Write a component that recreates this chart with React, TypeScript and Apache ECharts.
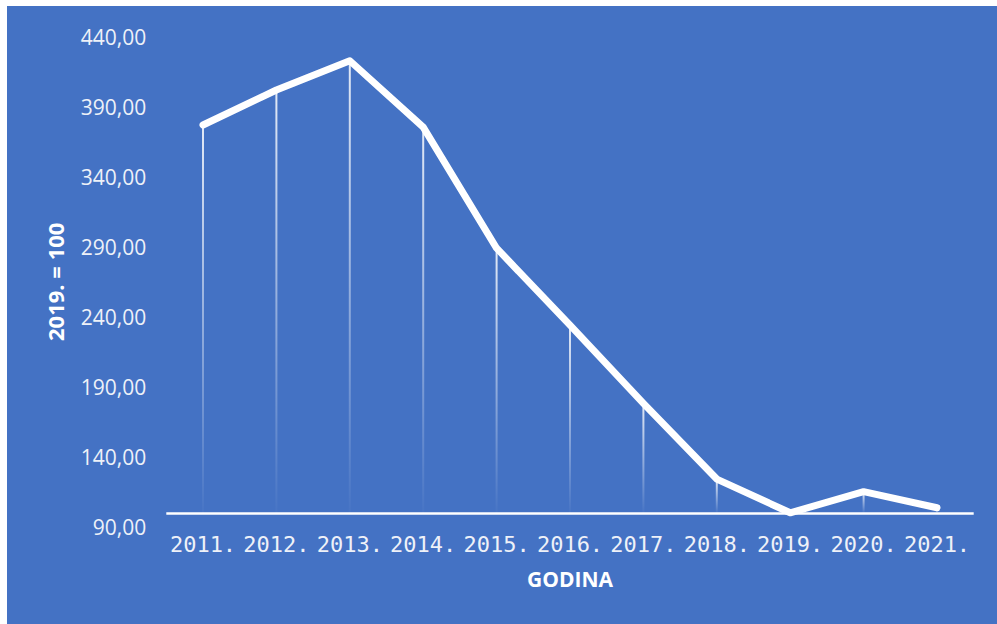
import React, { useEffect, useRef } from "react";
import * as echarts from "echarts";

const years = ["2011.", "2012.", "2013.", "2014.", "2015.", "2016.", "2017.", "2018.", "2019.", "2020.", "2021."];
const indexValues = [377.0, 402.0, 422.9, 375.5, 289.0, 234.1, 178.2, 124.1, 100.0, 115.1, 103.6];
const baseLevel = 100;
const yMin = 90;
const yMax = 440;
const yStep = 50;
const yAxisTitle = "2019. = 100";
const xAxisTitle = "GODINA";

export default function App() {
  const ref = useRef<HTMLDivElement>(null);
  useEffect(() => {
    if (!ref.current) return;
    const chart = echarts.init(ref.current, null, { renderer: "svg" });
    const labelColor = "#eef1f8";
    chart.setOption({
      animation: false,
      backgroundColor: "#4472C4",
      grid: { left: 159.3, right: 23.3, top: 30.8, bottom: 97.2 },
      xAxis: {
        type: "category",
        data: years,
        boundaryGap: true,
        axisLine: { show: false },
        axisTick: { show: false },
        axisLabel: {
          color: labelColor,
          fontFamily: "DejaVu Sans Mono",
          fontSize: 22,
          margin: 7,
          interval: 0,
        },
        name: xAxisTitle,
        nameLocation: "middle",
        nameGap: 42,
        nameTextStyle: {
          color: "#ffffff",
          fontFamily: "Open Sans",
          fontWeight: "bold",
          fontSize: 21,
        },
      },
      yAxis: {
        type: "value",
        min: yMin,
        max: yMax,
        interval: yStep,
        splitLine: { show: false },
        axisLine: { show: false },
        axisTick: { show: false },
        axisLabel: {
          color: labelColor,
          fontFamily: "Open Sans",
          fontSize: 21,
          margin: 20,
          formatter: (v: number) => v.toFixed(2).replace(".", ","),
        },
        name: yAxisTitle,
        nameLocation: "middle",
        nameGap: 100,
        nameRotate: 90,
        nameTextStyle: {
          color: "#ffffff",
          fontFamily: "Open Sans",
          fontWeight: "bold",
          fontSize: 22,
        },
      },
      series: [
        {
          type: "bar",
          stack: "drop",
          barWidth: 2,
          silent: true,
          data: indexValues.map(() => baseLevel),
          itemStyle: { color: "rgba(0,0,0,0)" },
          markLine: {
            silent: true,
            symbol: "none",
            label: { show: false },
            lineStyle: { color: "#ffffff", width: 2.5, type: "solid" },
            data: [{ yAxis: baseLevel }],
          },
        },
        {
          type: "bar",
          stack: "drop",
          barWidth: 2,
          silent: true,
          data: indexValues.map((v) => v - baseLevel),
          itemStyle: {
            color: new echarts.graphic.LinearGradient(0, 0, 0, 1, [
              { offset: 0, color: "rgba(255,255,255,0.85)" },
              { offset: 1, color: "rgba(255,255,255,0.02)" },
            ]),
          },
        },
        {
          type: "line",
          data: indexValues,
          symbol: "none",
          z: 5,
          lineStyle: { color: "#ffffff", width: 7, cap: "round", join: "round" },
        },
      ],
    });
    return () => chart.dispose();
  }, []);
  return (
    <div
      ref={ref}
      style={{ position: "fixed", left: 7, top: 6, width: 990, height: 618 }}
    />
  );
}
